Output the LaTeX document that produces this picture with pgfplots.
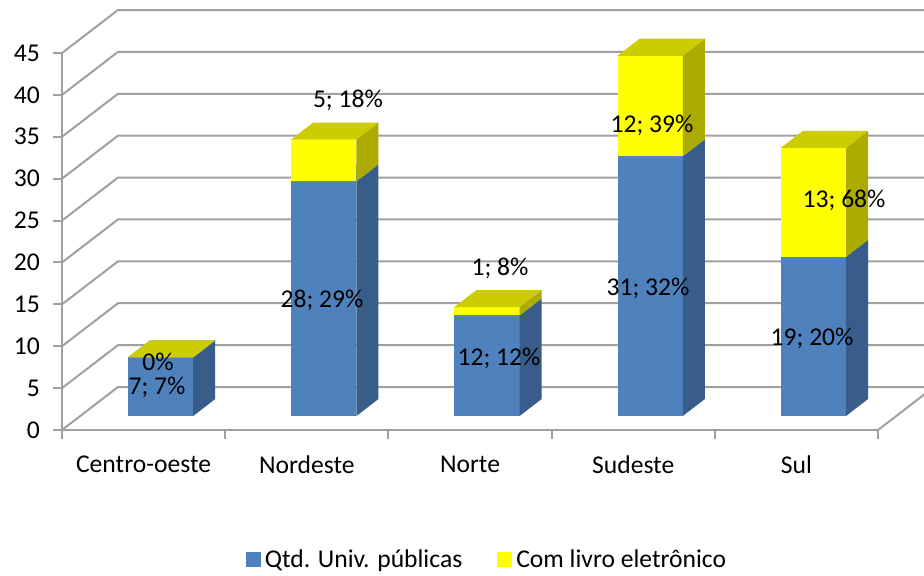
\documentclass[border=0pt]{standalone}
\usepackage{pgfplots}
\pgfplotsset{compat=1.18}
\usepackage{pgfplotstable}
\usepackage{fontspec}
\setmainfont{Carlito}
\definecolor{qblue}{HTML}{4F81BD}
\definecolor{qblueside}{HTML}{385D8A}
\definecolor{qbluetop}{HTML}{6F95C8}
\definecolor{qyel}{HTML}{FFFF00}
\definecolor{qyelside}{HTML}{ABAB00}
\definecolor{qyeltop}{HTML}{CCCC00}
\definecolor{gridc}{HTML}{A0A0A0}

\pgfplotstableread{
cat qtd livro
0 7 0
1 28 5
2 12 1
3 31 12
4 19 13
}\datatable

\def\ox{0.104}\def\oy{1.67}\def\hw{0.2}\def\dx{0.135}\def\dy{2.03}
\def\wx{0.343}\def\wy{5.13}

\newcommand\drawcube[6]{%
 \pgfmathsetmacro\xl{#1+0.5+\ox-\hw}%
 \pgfmathsetmacro\xr{#1+0.5+\ox+\hw}%
 \pgfmathsetmacro\xlb{\xl+\dx}%
 \pgfmathsetmacro\xrb{\xr+\dx}%
 \pgfmathsetmacro\ya{#2+\oy}%
 \pgfmathsetmacro\yb{#3+\oy}%
 \pgfmathsetmacro\yab{\ya+\dy}%
 \pgfmathsetmacro\ybb{\yb+\dy}%
 \edef\doit{%
 \noexpand\addplot[forget plot, fill=#4, draw=none] coordinates {(\xl,\ya) (\xr,\ya) (\xr,\yb) (\xl,\yb)} -- cycle;
 \noexpand\addplot[forget plot, fill=#5, draw=none] coordinates {(\xr,\ya) (\xrb,\yab) (\xrb,\ybb) (\xr,\yb)} -- cycle;
 \noexpand\addplot[forget plot, fill=#6, draw=none] coordinates {(\xl,\yb) (\xr,\yb) (\xrb,\ybb) (\xlb,\ybb)} -- cycle;
 }\doit}

\newcommand\gridline[1]{%
 \pgfmathsetmacro\gyb{#1+\wy}%
 \edef\doit{%
 \noexpand\addplot[forget plot, gridc, line width=1pt, mark=none] coordinates {(0,#1) (\wx,\gyb) (5.5,\gyb)};
 }\doit}

\begin{document}
\begin{tikzpicture}[font=\fontsize{12.8}{15}\selectfont]
\useasboundingbox (0,0) rectangle (462pt,288pt);
\begin{axis}[
  at={(31pt,73pt)}, anchor=south west,
  width=408pt, height=188.5pt, scale only axis,
  xmin=0, xmax=5, ymin=0, ymax=45,
  clip=false,
  axis lines=left,
  axis line style={-, gridc, line width=1pt},
  tick style={gridc, line width=1pt},
  tick align=outside,
  major tick length=4.5pt,
  ytick={0,5,...,45},
  xtick={0,...,5},
  xticklabels={},
  extra x ticks={0.5,1.5,...,4.5},
  extra x tick labels={Centro-oeste,Nordeste,Norte,Sudeste,Sul},
  extra x tick style={major tick length=0pt},
  ticklabel style={font=\fontsize{12.8}{15}\selectfont, text=black},
  yticklabel style={xshift=-3pt},
  xticklabel style={yshift=-9.5pt},
  /pgf/number format/assume math mode=true,
  legend style={at={(axis cs:2.61,-15.5)}, anchor=center, draw=none,
    legend columns=2, font=\fontsize{12.8}{15}\selectfont,
    /tikz/every even column/.append style={column sep=15.5pt}},
  legend image code/.code={\fill[#1] (0pt,-3.75pt) rectangle (7.5pt,3.75pt);},
]
\pgfplotsinvokeforeach{0,5,...,45}{\gridline{#1}}
\addplot[forget plot, gridc, line width=1pt, mark=none] coordinates {(5,0) (5.343,5.13)};

\pgfplotsinvokeforeach{0,...,4}{%
  \pgfplotstablegetelem{#1}{qtd}\of\datatable \let\qv\pgfplotsretval
  \pgfplotstablegetelem{#1}{livro}\of\datatable \let\lv\pgfplotsretval
  \pgfmathsetmacro\tv{\qv+\lv}%
  \drawcube{#1}{0}{\qv}{qblue}{qblueside}{qbluetop}%
  \drawcube{#1}{\qv}{\tv}{qyel}{qyelside}{qyeltop}%
}

\addlegendimage{fill=qblue, draw=none}
\addlegendentry{Qtd. Univ. públicas}
\addlegendimage{fill=qyel, draw=none}
\addlegendentry{Com livro eletrônico}

\node at (axis cs:0.588,8.1) {0\%};
\node at (axis cs:0.582,5.13) {7; 7\%};
\node at (axis cs:1.752,39.3) {5; 18\%};
\node at (axis cs:1.593,15.5) {28; 29\%};
\node at (axis cs:2.684,19.3) {1; 8\%};
\node at (axis cs:2.678,8.6) {12; 12\%};
\node at (axis cs:3.615,36.4) {12; 39\%};
\node at (axis cs:3.591,16.9) {31; 32\%};
\node at (axis cs:4.792,27.4) {13; 68\%};
\node at (axis cs:4.596,10.99) {19; 20\%};
\end{axis}
\end{tikzpicture}
\end{document}
